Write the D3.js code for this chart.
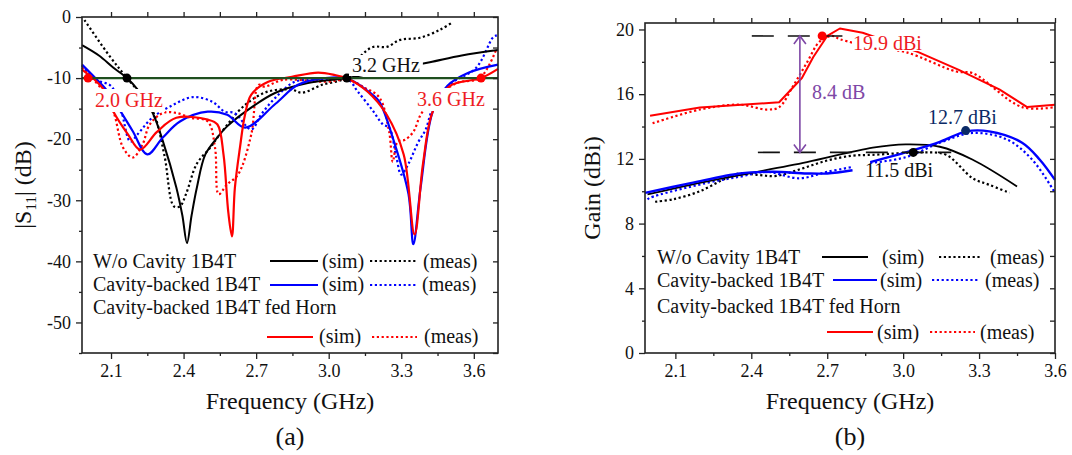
<!DOCTYPE html>
<html><head><meta charset="utf-8">
<script src="https://cdn.jsdelivr.net/npm/d3@7"></script>
<style>
html,body{margin:0;padding:0;background:#fff;}
text{font-family:"Liberation Serif","Times New Roman",serif;}
</style></head>
<body><svg id="c" width="1072" height="455"></svg>
<script>
// ---------- DATA (a): |S11| (dB) vs frequency (GHz) ----------
const s11WoSim = [[1.98,-4.6],[2.05,-6.3],[2.11,-8.3],[2.166,-10],[2.21,-11.9],[2.27,-15.5],[2.315,-20.4],[2.37,-27.9],[2.395,-32.5],[2.414,-37],[2.433,-32.5],[2.455,-27.9],[2.49,-22.5],[2.54,-19.7],[2.58,-17.9],[2.666,-15.2],[2.78,-12.4],[2.914,-10.8],[3.075,-10],[3.2,-9.0],[3.3,-8.3],[3.418,-7.4],[3.55,-6.3],[3.7,-5.4]];
const s11WoMeas = [[1.99,-0.5],[2.096,-6.5],[2.166,-10],[2.27,-15.2],[2.32,-22.5],[2.36,-31],[2.385,-31],[2.41,-29],[2.455,-24],[2.51,-21.4],[2.55,-19.2],[2.654,-14.4],[2.749,-12.2],[2.848,-11.9],[2.889,-12.4],[2.972,-11.1],[3.067,-10],[3.13,-6.5],[3.183,-4.9],[3.24,-4.9],[3.295,-3.75],[3.377,-3.4],[3.46,-2.1],[3.514,-0.8]];
const s11CavSim = [[1.98,-7.8],[2.03,-9.8],[2.08,-11.9],[2.14,-15.5],[2.19,-18.7],[2.25,-22.5],[2.315,-19.7],[2.385,-17.1],[2.5,-15.5],[2.58,-16],[2.655,-18.1],[2.78,-14.2],[2.873,-11.1],[2.985,-10],[3.08,-10.1],[3.18,-12.7],[3.21,-13.9],[3.27,-20.4],[3.33,-29],[3.35,-37.2],[3.38,-27.9],[3.43,-15.5],[3.49,-11.3],[3.58,-9.1],[3.7,-7.8]];
const s11CavMeas = [[1.98,-8.0],[2.04,-10.3],[2.10,-11.3],[2.14,-15],[2.18,-20.4],[2.21,-19.2],[2.27,-16.5],[2.356,-14.4],[2.44,-13.1],[2.52,-13.9],[2.57,-15.5],[2.61,-15.7],[2.68,-18.4],[2.72,-16],[2.78,-13.2],[2.86,-10.6],[2.94,-10.3],[3.08,-10.3],[3.12,-12.2],[3.18,-15.2],[3.225,-17.6],[3.25,-18.1],[3.28,-23],[3.30,-25.8],[3.33,-24],[3.37,-20.5],[3.40,-18.5],[3.43,-15],[3.5,-11.1],[3.61,-8.3],[3.68,-3.3],[3.695,-3]];
const s11HornSim = [[1.98,-8.6],[2.03,-10.2],[2.07,-11.9],[2.11,-15.5],[2.17,-19.2],[2.22,-21.7],[2.29,-18.8],[2.37,-16.5],[2.5,-16.8],[2.54,-17.6],[2.565,-22.5],[2.585,-32],[2.60,-35.9],[2.612,-28],[2.633,-21.4],[2.654,-16],[2.68,-12.7],[2.75,-10.6],[2.848,-9.8],[2.956,-9.1],[3.026,-9.5],[3.08,-10.1],[3.16,-12.2],[3.24,-16],[3.31,-22.5],[3.355,-35.6],[3.39,-24],[3.43,-15.5],[3.5,-11.3],[3.63,-10],[3.7,-8.5]];
const s11HornMeas = [[1.98,-8.3],[2.063,-11.9],[2.11,-15.5],[2.15,-21.4],[2.19,-23],[2.23,-20.9],[2.26,-17.6],[2.315,-15.7],[2.37,-15.7],[2.43,-16.5],[2.5,-17.1],[2.53,-21.4],[2.545,-29],[2.58,-27.4],[2.625,-25.8],[2.68,-19.2],[2.71,-11.1],[2.735,-11.4],[2.81,-10.3],[2.985,-10.6],[3.08,-10.3],[3.15,-11.6],[3.21,-13.2],[3.25,-18.8],[3.265,-23.7],[3.285,-20.4],[3.315,-20.1],[3.35,-18.8],[3.38,-16],[3.42,-14],[3.53,-10.8],[3.625,-10],[3.695,-5.1]];
const s11Threshold = -10;
const s11Marks = [[2.166,-10,"#000"],[3.075,-10,"#000"],[2.005,-10,"#ff0000"],[3.63,-10,"#ff0000"]];
const s11XTicks = [2.1,2.4,2.7,3.0,3.3,3.6];
const s11YTicks = [0,-10,-20,-30,-40,-50];

// ---------- DATA (b): Gain (dBi) vs frequency (GHz) ----------
const gainWoSim = [[1.99,9.8],[2.16,10.4],[2.355,11.0],[2.62,11.8],[2.88,12.7],[3.01,12.9],[3.145,12.75],[3.275,11.95],[3.45,10.3]];
const gainWoMeas = [[2.02,9.35],[2.09,9.5],[2.197,10.0],[2.3,10.8],[2.355,11.1],[2.43,11.0],[2.5,10.95],[2.6,11.4],[2.7,11.9],[2.8,12.2],[2.88,12.25],[3.08,12.4],[3.17,12.25],[3.275,10.8],[3.34,10.4],[3.42,9.9]];
const gainCavSim1 = [[1.98,9.9],[2.16,10.5],[2.355,11.1],[2.485,11.2],[2.62,11.1],[2.7,11.1],[2.8,11.3]];
const gainCavSim2 = [[2.87,11.8],[3.01,12.4],[3.145,13.05],[3.25,13.7],[3.34,13.7],[3.47,13.0],[3.54,11.95],[3.6,10.7]];
const gainCavMeas1 = [[1.99,9.5],[2.0,9.6],[2.22,10.5],[2.355,10.9],[2.46,11.2],[2.59,10.8],[2.7,11.2],[2.8,11.5]];
const gainCavMeas2 = [[2.87,11.75],[3.01,12.1],[3.145,13.0],[3.275,13.6],[3.41,13.2],[3.51,11.95],[3.6,9.9]];
const gainHornSim = [[2.0,14.67],[2.197,15.17],[2.51,15.5],[2.6,17.0],[2.645,18.3],[2.7,19.6],[2.75,20.06],[2.84,19.8],[3.06,18.6],[3.22,17.5],[3.38,16.3],[3.49,15.2],[3.6,15.35]];
const gainHornMeas = [[2.01,14.2],[2.197,15.05],[2.355,15.35],[2.46,15.05],[2.51,15.2],[2.565,16.5],[2.62,17.96],[2.67,19.25],[2.72,19.6],[2.75,19.4],[2.88,18.9],[3.01,18.6],[3.21,17.4],[3.275,17.3],[3.47,15.2],[3.6,15.2]];
const gainMarks = [[2.68,19.6,"#ff0000"],[3.04,12.4,"#000"],[3.247,13.75,"#0b2a66"]];
const gainRefTop = 19.6, gainRefBottom = 12.4, gainArrowF = 2.592;
const gainXTicks = [2.1,2.4,2.7,3.0,3.3,3.6];
const gainYTicks = [0,4,8,12,16,20];

const RED="#ff0000", BLUE="#0000ff", BLACK="#000", GREEN="#1f4f1f", PURPLE="#7e48a6", NAVY="#0b2a66";
const DOT="2.2,2.6";

const svg = d3.select("#c");

function axesFrame(x, y, xMaj, xMin, yMaj, yMin, yFmt){
  const [x0,x1]=x.range(), [yb,yt]=y.range();
  const g=svg.append("g");
  g.append("g").attr("transform",`translate(0,${yb})`)
    .call(d3.axisBottom(x).tickValues(xMaj).tickSize(6).tickPadding(5).tickFormat(d3.format(".1f")));
  g.append("g").attr("transform",`translate(0,${yb})`).call(d3.axisBottom(x).tickValues(xMin).tickSize(3).tickFormat(""));
  g.append("g").attr("transform",`translate(0,${yt})`).call(d3.axisTop(x).tickValues(xMaj.concat(xMin)).tickSize(5).tickFormat(""));
  g.append("g").attr("transform",`translate(${x0},0)`)
    .call(d3.axisLeft(y).tickValues(yMaj).tickSize(6).tickPadding(5).tickFormat(yFmt));
  g.append("g").attr("transform",`translate(${x0},0)`).call(d3.axisLeft(y).tickValues(yMin).tickSize(3).tickFormat(""));
  g.append("g").attr("transform",`translate(${x1},0)`).call(d3.axisRight(y).tickValues(yMaj.concat(yMin)).tickSize(-5).tickFormat(""));
  g.selectAll(".domain").remove();
  g.selectAll("line").attr("stroke","#222").attr("stroke-width",1.3);
  g.selectAll("text").attr("font-family","Liberation Serif, Times New Roman, serif").attr("font-size",18).attr("fill","#111");
  g.append("rect").attr("x",x0).attr("y",yt).attr("width",x1-x0).attr("height",yb-yt)
    .attr("fill","none").attr("stroke","#222").attr("stroke-width",1.6);
}

function curve(x,y,data,color,dash,w,cv){
  const line=d3.line().x(d=>x(d[0])).y(d=>y(d[1])).curve(cv||d3.curveCatmullRom.alpha(0.5));
  svg.append("path").datum(data).attr("d",line).attr("fill","none").attr("stroke",color)
    .attr("stroke-width",w||2).attr("stroke-dasharray",dash||null).attr("stroke-linejoin","round");
}

function txt(x,y,s,opt){
  opt=opt||{};
  return svg.append("text").attr("x",x).attr("y",y).text(s)
    .attr("font-size",opt.size||20).attr("fill",opt.fill||"#111")
    .attr("font-family",opt.family||"Liberation Serif, Times New Roman, serif")
    .attr("text-anchor",opt.anchor||"start");
}

function bgLabel(x,y,s,opt,padX,padY){
  const t=txt(x,y,s,opt);
  const b=t.node().getBBox();
  svg.insert("rect",()=>t.node()).attr("x",b.x-padX).attr("y",b.y-padY+2).attr("width",b.width+2*padX).attr("height",b.height+2*padY-3).attr("fill","#fff");
}

function legLine(x1,x2,yy,color,dash){
  svg.append("line").attr("x1",x1).attr("x2",x2).attr("y1",yy).attr("y2",yy)
    .attr("stroke",color).attr("stroke-width",2.2).attr("stroke-dasharray",dash||null);
}

// ================= Chart (a) =================
const xa=d3.scaleLinear().domain([1.98,3.70]).range([82,498]);
const ya=d3.scaleLinear().domain([-55,0]).range([353,17]);
const minorX=[2.25,2.55,2.85,3.15,3.45];
curve(xa,ya,s11WoMeas,BLACK,DOT,2.2);
curve(xa,ya,s11CavMeas,BLUE,DOT,2.2);
curve(xa,ya,s11HornMeas,RED,DOT,2.2);
curve(xa,ya,s11WoSim,BLACK,null,2);
curve(xa,ya,s11CavSim,BLUE,null,2.2);
curve(xa,ya,s11HornSim,RED,null,2.2);
svg.append("line").attr("x1",xa.range()[0]).attr("x2",xa.range()[1]).attr("y1",ya(s11Threshold)).attr("y2",ya(s11Threshold))
  .attr("stroke",GREEN).attr("stroke-width",2.4);
svg.selectAll(".ma").data(s11Marks).enter().append("circle").attr("cx",d=>xa(d[0])).attr("cy",d=>ya(d[1])).attr("r",4.5).attr("fill",d=>d[2]);
bgLabel(95,107,"2.0 GHz",{fill:"#ee1c24",size:20},2,2);
bgLabel(352,72,"3.2 GHz",{fill:"#111",size:20},3,1);
bgLabel(417,106,"3.6 GHz",{fill:"#ee1c24",size:20,family:"Liberation Sans, Arial, sans-serif"},2,2);
axesFrame(xa,ya,s11XTicks,minorX,s11YTicks,[-5,-15,-25,-35,-45,-55],d=>String(d));
txt(290,409,"Frequency (GHz)",{size:24,anchor:"middle"});
txt(290,445,"(a)",{size:26,anchor:"middle"});
const yl=svg.append("text").attr("transform","translate(31,185) rotate(-90)").attr("text-anchor","middle")
  .attr("font-size",24).attr("fill","#111");
yl.append("tspan").text("|S");
yl.append("tspan").text("11").attr("font-size",15).attr("dy",5);
yl.append("tspan").text("| (dB)").attr("dy",-5);
txt(93,268,"W/o Cavity 1B4T");
txt(93,291,"Cavity-backed 1B4T");
txt(93,314,"Cavity-backed 1B4T fed Horn");
legLine(270,318,261,BLACK); txt(322,268,"(sim)"); legLine(370,417,261,BLACK,DOT); txt(423,268,"(meas)");
legLine(270,318,285,BLUE); txt(322,291,"(sim)"); legLine(370,417,285,BLUE,DOT); txt(422,291,"(meas)");
legLine(267,313,337,RED); txt(319,343,"(sim)"); legLine(372,417,337,RED,DOT); txt(424,343,"(meas)");

// ================= Chart (b) =================
const xb=d3.scaleLinear().domain([1.98,3.6]).range([645,1055]);
const yb=d3.scaleLinear().domain([0,20.4]).range([353,23]);
curve(xb,yb,gainWoMeas,BLACK,DOT,2.2);
curve(xb,yb,gainCavMeas1,BLUE,DOT,2.2);
curve(xb,yb,gainCavMeas2,BLUE,DOT,2.2);
curve(xb,yb,gainHornMeas,RED,DOT,2.2);
curve(xb,yb,gainWoSim,BLACK,null,1.8);
curve(xb,yb,gainCavSim1,BLUE,null,2.4);
curve(xb,yb,gainCavSim2,BLUE,null,2.4);
curve(xb,yb,gainHornSim,RED,null,2,d3.curveLinear);
function dash(f0,f1,g){
  svg.append("line").attr("x1",xb(f0)).attr("x2",xb(f1)).attr("y1",yb(g)).attr("y2",yb(g))
    .attr("stroke","#111").attr("stroke-width",1.6).attr("stroke-dasharray","22,14");
}
dash(2.402,2.76,gainRefTop);
dash(2.426,3.19,gainRefBottom);
const ax=xb(gainArrowF), ay1=yb(gainRefTop), ay2=yb(gainRefBottom);
svg.append("line").attr("x1",ax).attr("x2",ax).attr("y1",ay1).attr("y2",ay2).attr("stroke",PURPLE).attr("stroke-width",1.6);
svg.append("path").attr("d",`M${ax-6},${ay1+8}L${ax},${ay1}L${ax+6},${ay1+8}M${ax-6},${ay2-8}L${ax},${ay2}L${ax+6},${ay2-8}`)
  .attr("fill","none").attr("stroke",PURPLE).attr("stroke-width",1.6);
svg.selectAll(".mb").data(gainMarks).enter().append("circle").attr("cx",d=>xb(d[0])).attr("cy",d=>yb(d[1])).attr("r",4.5).attr("fill",d=>d[2]);
bgLabel(853,50,"19.9 dBi",{fill:"#ee1c24"},1,-2);
txt(812,99,"8.4 dB",{fill:PURPLE});
txt(928,124,"12.7 dBi",{fill:NAVY});
txt(865,177,"11.5 dBi",{fill:"#111"});
axesFrame(xb,yb,gainXTicks,minorX,gainYTicks,[2,6,10,14,18],d=>String(d));
txt(850,409,"Frequency (GHz)",{size:24,anchor:"middle"});
txt(850,445,"(b)",{size:26,anchor:"middle"});
svg.append("text").attr("transform","translate(600,188) rotate(-90)").attr("text-anchor","middle")
  .attr("font-size",24).attr("fill","#111").text("Gain (dBi)");
txt(657,264,"W/o Cavity 1B4T");
txt(657,287,"Cavity-backed 1B4T");
txt(657,313,"Cavity-backed 1B4T fed Horn");
legLine(822,868,257,BLACK); txt(882,264,"(sim)"); legLine(939,980,257,BLACK,DOT); txt(990,264,"(meas)");
legLine(833,877,280,BLUE); txt(880,287,"(sim)"); legLine(932,980,280,BLUE,DOT); txt(985,287,"(meas)");
legLine(827,873,332,RED); txt(877,339,"(sim)"); legLine(930,975,332,RED,DOT); txt(980,339,"(meas)");
</script></body></html>
